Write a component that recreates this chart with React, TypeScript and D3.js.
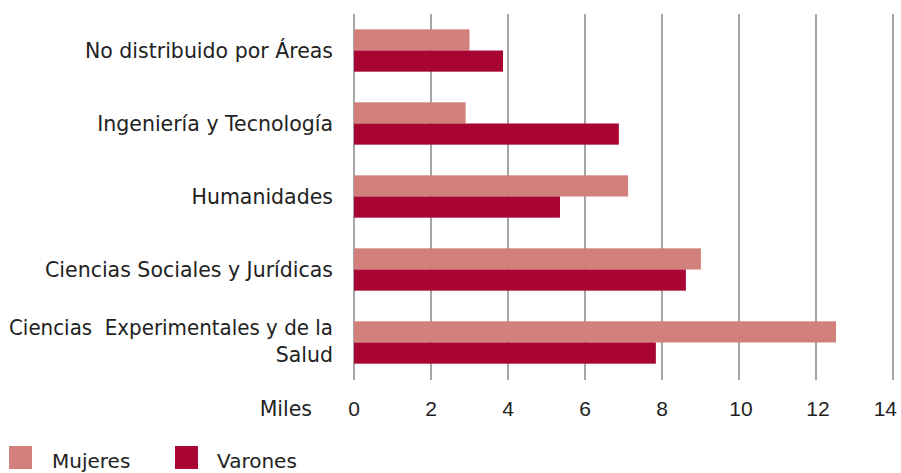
import * as d3 from 'd3';

const categories = [
  'No distribuido por Áreas',
  'Ingeniería y Tecnología',
  'Humanidades',
  'Ciencias Sociales y Jurídicas',
  'Ciencias  Experimentales y de la Salud',
];
const mujeres = [3.0, 2.9, 7.12, 9.01, 12.52];
const varones = [3.87, 6.88, 5.35, 8.62, 7.84];
const series = ['Mujeres', 'Varones'];
const colors = ['#d2807c', '#a80533'];
const ticks = [0, 2, 4, 6, 8, 10, 12, 14];

// multiline label split
const labelLines: Record<string, string[]> = {
  'Ciencias  Experimentales y de la Salud': ['Ciencias  Experimentales y de la', 'Salud'],
};

export default function App() {
  const width = 901;
  const height = 473;
  const font = '"DejaVu Sans", sans-serif';
  const numFont = '"Liberation Sans", Arial, sans-serif';
  const labelRight = 333;

  const x = d3.scaleLinear().domain([0, 14]).range([354, 893]);
  const y = d3.scaleBand().domain(categories).range([14, 379]).paddingInner(0.42).paddingOuter(0.21);
  const ySub = d3.scaleBand().domain(series).range([0, y.bandwidth()]);

  return (
    <svg width={width} height={height} style={{ position: 'absolute', left: 0, top: 0 }}>
      {ticks.map((t) => (
        <line key={t} x1={x(t)} x2={x(t)} y1={14} y2={380} stroke="#a6a6a6" strokeWidth={2} />
      ))}
      {categories.map((c, i) => {
        const y0 = y(c) || 0;
        const vals = [mujeres[i], varones[i]];
        const lines = labelLines[c] || [c];
        const cy = y0 + y.bandwidth() / 2;
        return (
          <g key={c}>
            {vals.map((v, j) => (
              <rect
                key={j}
                x={x(0)}
                y={y0 + (ySub(series[j]) || 0)}
                width={x(v) - x(0)}
                height={ySub.bandwidth()}
                fill={colors[j]}
              />
            ))}
            {lines.map((l, k) => {
              // squeeze the long first line so it fits the left margin
              const fit = lines.length > 1 && k === 0;
              return (
                <text
                  key={k}
                  x={fit ? 9 : labelRight}
                  y={cy + (lines.length > 1 ? 6 : 7) + (k - (lines.length - 1) / 2) * 27}
                  textAnchor={fit ? 'start' : 'end'}
                  textLength={fit ? labelRight - 9 : undefined}
                  lengthAdjust={fit ? 'spacingAndGlyphs' : undefined}
                  fontFamily={font}
                  fontSize={20.5}
                  fill="#222"
                  style={{ whiteSpace: 'pre' }}
                >
                  {l}
                </text>
              );
            })}
          </g>
        );
      })}
      {ticks.map((t, i) => (
        <text
          key={t}
          x={i === ticks.length - 1 ? 897 : x(t) + (t >= 10 ? 2 : 0)}
          y={416}
          textAnchor={i === ticks.length - 1 ? 'end' : 'middle'}
          fontFamily={numFont}
          fontSize={21}
          fill="#222"
        >
          {t}
        </text>
      ))}
      <text x={312} y={416} textAnchor="end" fontFamily={font} fontSize={20.5} fill="#222">
        Miles
      </text>
      {series.map((s, j) => (
        <g key={s} transform={`translate(${j === 0 ? 9 : 175},446)`}>
          <rect width={23} height={23} fill={colors[j]} />
          <text x={j === 0 ? 43 : 42} y={22} fontFamily={font} fontSize={20} fill="#222">
            {s}
          </text>
        </g>
      ))}
    </svg>
  );
}
